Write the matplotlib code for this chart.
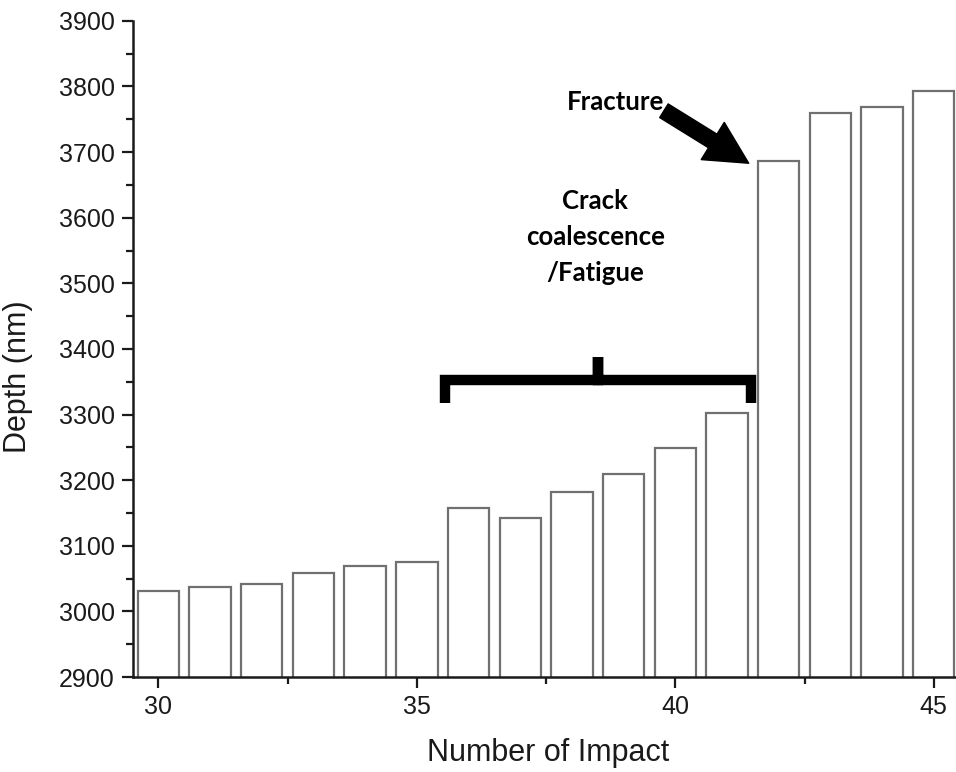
import numpy as np
import matplotlib.pyplot as plt
from matplotlib.ticker import MultipleLocator

impacts = [30, 31, 32, 33, 34, 35, 36, 37, 38, 39, 40, 41, 42, 43, 44, 45]
depth = [3031, 3037, 3042, 3059, 3069, 3075, 3157, 3143, 3182, 3210,
         3249, 3302, 3687, 3759, 3768, 3793]

# bracket over the fatigue region, and the fracture arrow
bracket_x = [35.55, 35.55, 38.5, 38.5, 38.5, 41.47, 41.47]
bracket_y = [3318, 3352, 3352, 3388, 3352, 3352, 3318]
arrow_tail = (39.78, 3763)
arrow_tip = (41.42, 3683)

plt.rcParams['font.family'] = ['Liberation Sans', 'DejaVu Sans']

fig = plt.figure(figsize=(9.56, 7.72), dpi=100)
ax = fig.add_axes([0.139, 0.123, 0.861, 0.850])

ax.bar(impacts, depth, width=0.8, bottom=0, color='white',
       edgecolor='#707070', linewidth=1.6)

ax.set_xlim(29.507, 45.43)
ax.set_ylim(2900, 3900)

ax.xaxis.set_major_locator(MultipleLocator(5))
ax.xaxis.set_minor_locator(MultipleLocator(2.5))
ax.yaxis.set_major_locator(MultipleLocator(100))
ax.yaxis.set_minor_locator(MultipleLocator(50))

for s in ['top', 'right']:
    ax.spines[s].set_visible(False)
for s in ['left', 'bottom']:
    ax.spines[s].set_linewidth(1.8)
    ax.spines[s].set_color('#1a1a1a')

ax.tick_params(which='major', direction='out', length=8, width=1.6,
               labelsize=18, colors='#1a1a1a', pad=5)
ax.tick_params(which='minor', direction='out', length=5, width=1.6,
               colors='#1a1a1a')

ax.set_xlabel('Number of Impact', fontsize=22, color='#1a1a1a')
ax.set_ylabel('Depth (nm)', fontsize=22, color='#1a1a1a')
ax.xaxis.set_label_coords(0.505, -0.093)
ax.yaxis.set_label_coords(-0.121, 0.457)

ax.plot(bracket_x, bracket_y, color='black', linewidth=7.5,
        solid_joinstyle='miter', solid_capstyle='butt')

ax.annotate('', xy=arrow_tip, xytext=arrow_tail,
            arrowprops=dict(arrowstyle='simple,head_length=1.45,head_width=1.5,tail_width=0.55',
                            mutation_scale=21, color='black', shrinkA=0, shrinkB=0))

ax.text(38.85, 3777, 'Fracture', fontsize=18.5, fontweight='bold',
        family=['Lato', 'DejaVu Sans'], ha='center', va='center')
ax.text(38.45, 3570, 'Crack\ncoalescence\n/Fatigue', fontsize=18.5,
        fontweight='bold', family=['Lato', 'DejaVu Sans'], ha='center',
        va='center', linespacing=1.6)

fig.savefig('out.png', dpi=100)
